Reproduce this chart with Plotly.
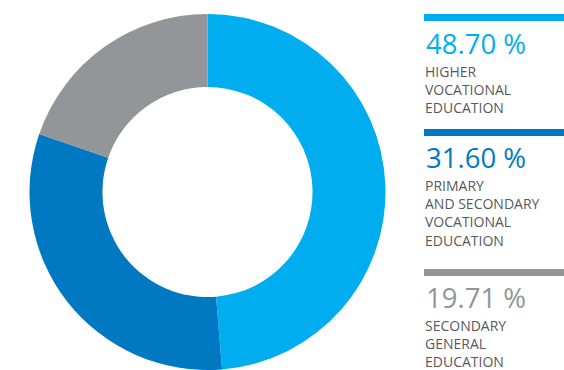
import plotly.graph_objects as go

W, H = 564, 370

categories = ["HIGHER VOCATIONAL EDUCATION",
              "PRIMARY AND SECONDARY VOCATIONAL EDUCATION",
              "SECONDARY GENERAL EDUCATION"]
values = [48.70, 31.60, 19.71]
pct_labels = ["48.70 %", "31.60 %", "19.71 %"]
label_lines = [["HIGHER", "VOCATIONAL", "EDUCATION"],
               ["PRIMARY", "AND SECONDARY", "VOCATIONAL", "EDUCATION"],
               ["SECONDARY", "GENERAL", "EDUCATION"]]
colors = ["#00AEEF", "#0079C2", "#939598"]

# layout positions (pixels)
bar_tops = [14, 129, 269]
pct_mid = [43, 157.5, 297.5]
label_top = [61, 175, 315]

def px(x):
    return x / W

def py(y):
    return 1 - y / H

fig = go.Figure()
cx, cy, r = 207.5, 192, 178
fig.add_trace(go.Pie(
    labels=categories, values=values, sort=False, direction="clockwise",
    rotation=0, hole=0.59, textinfo="none", hoverinfo="label+percent",
    marker=dict(colors=colors, line=dict(width=0)),
    domain=dict(x=[px(cx - r), px(cx + r)], y=[py(cy + r), py(cy - r)]),
    showlegend=False,
))

shapes = []
annotations = []
lx = 424
for i in range(3):
    shapes.append(dict(type="rect", xref="paper", yref="paper",
                       x0=px(lx), x1=1, y0=py(bar_tops[i] + 7), y1=py(bar_tops[i]),
                       fillcolor=colors[i], line=dict(width=0)))
    annotations.append(dict(xref="paper", yref="paper", x=px(lx), y=py(pct_mid[i]),
                            xanchor="left", yanchor="middle", showarrow=False,
                            text=pct_labels[i],
                            font=dict(family="Open Sans", size=27.5, color=colors[i])))
    annotations.append(dict(xref="paper", yref="paper", x=px(lx), y=py(label_top[i]),
                            xanchor="left", yanchor="top", showarrow=False,
                            align="left", borderpad=0,
                            text="<br>".join(label_lines[i]),
                            font=dict(family="Open Sans", size=14, color="#58595B")))

fig.update_layout(width=W, height=H, margin=dict(l=0, r=0, t=0, b=0),
                  paper_bgcolor="white", plot_bgcolor="white",
                  shapes=shapes, annotations=annotations)

fig.write_html("out.html")
